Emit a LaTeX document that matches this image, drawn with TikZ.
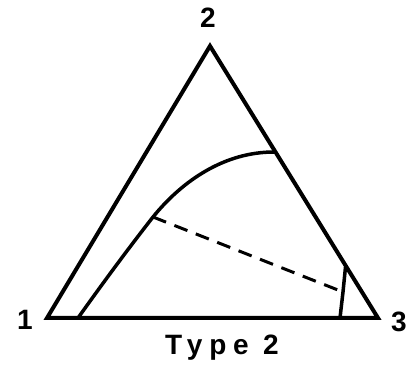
\documentclass[tikz,border=0pt]{standalone}
\usepackage{fontspec}
\setmainfont{Liberation Sans}
\newfontfamily\lblfont[LetterSpace=24]{Liberation Sans}
\usetikzlibrary{positioning}

\begin{document}
\begin{tikzpicture}[x=1pt, y=-1pt,
    side/.style={line width=4pt, line join=miter},
    phase/.style={line width=3.5pt},
    tie/.style={line width=3pt, dash pattern=on 14pt off 9pt},
    lbl/.style={font=\bfseries\fontsize{28}{32}\selectfont, inner sep=0pt, anchor=base}]
  \useasboundingbox (0,0) rectangle (413,366);
  % corners of the diagram
  \coordinate (c1) at (47,318);
  \coordinate (c2) at (210,46);
  \coordinate (c3) at (378,318);
  \draw[side] (c1) -- (c2) -- (c3) -- cycle;
  \node[lbl] (n1) at (25,330) {1};
  \node[lbl] (n2) at (208,28) {2};
  \node[lbl] (n3) at (399,332) {3};
  \node[lbl, font=\lblfont\bfseries\fontsize{28}{32}\selectfont] (cap) at (222,355) {Type 2};
  % binodal and tie line
  \coordinate (b0) at (78,318);
  \coordinate (pl) at (153,217);
  \coordinate (b1) at (274,152);
  \coordinate (pr) at (343,292);
  \coordinate (r0) at (345.5,267);
  \coordinate (r1) at (340,318);
  \draw[phase] (b0) .. controls (110,273) and (135,240) .. (pl)
                    .. controls (183,180) and (225,152) .. (b1);
  \draw[phase] (r0) .. controls (344,280) .. (pr) -- (r1);
  \draw[tie] (pl) -- (pr);
\end{tikzpicture}
\end{document}
